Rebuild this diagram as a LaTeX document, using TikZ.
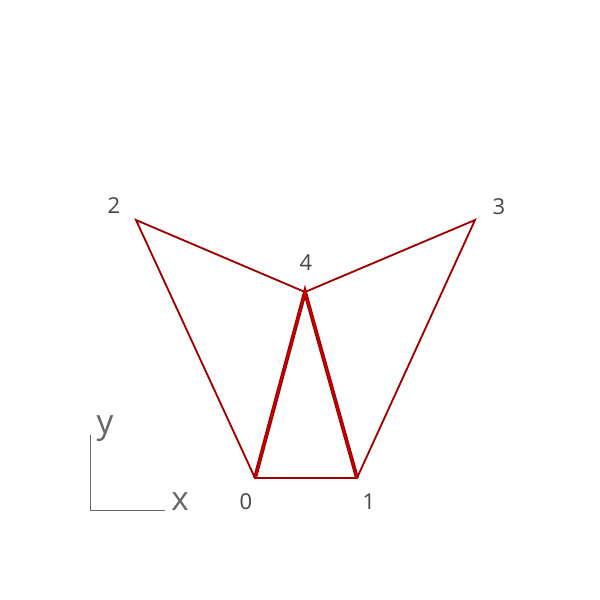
\documentclass[tikz,border=0pt]{standalone}
\usepackage{fontspec}
\setmainfont{Open Sans}
\usepackage{tikz}
\usetikzlibrary{positioning}
\definecolor{edgeCol}{HTML}{A00000}
\definecolor{hiCol}{HTML}{D00000}
\definecolor{txtCol}{HTML}{444444}
\definecolor{axCol}{HTML}{666666}
\begin{document}
\begin{tikzpicture}[x=0.02cm,y=-0.02cm,every node/.style={font=\fontsize{12.5}{14}\selectfont,text=txtCol,inner sep=0pt}]
  \tikzset{edge/.style={draw=edgeCol,line width=1.05pt},
    thickedge/.style={draw=edgeCol,line width=2.2pt},
    axisline/.style={draw=axCol,line width=0.5pt},
    axlbl/.style={font=\fontsize{19}{21}\selectfont,text=axCol}}
  \useasboundingbox (0,0) rectangle (600,600);
  % vertices
  \coordinate (v0) at (255,478);
  \coordinate (v1) at (357,478);
  \coordinate (v2) at (136,220);
  \coordinate (v3) at (475,220);
  \coordinate (v4) at (305,292);
  \node (l0) at (246,502) {0};
  \node (l1) at (369,502) {1};
  \node (l2) at (114,206) {2};
  \node (l3) at (499,207) {3};
  \node (l4) at (306,263) {4};
  % edges
  \draw[edge] (v2) -- (v0) -- (v1) -- (v3) -- (v4) -- cycle;
  \draw[thickedge] (v0) -- (v4) -- (v1);
  \draw[draw=hiCol,line width=0.8pt] (v0) -- (v4) -- (v1);
  % axes
  \coordinate (o) at (90,510);
  \coordinate (ax) at (165,510);
  \coordinate (ay) at (90,435);
  \draw[axisline] (ay) -- (o) -- (ax);
  \node[axlbl] (xl) at (180,502) {x};
  \node[axlbl] (yl) at (105,429) {y};
\end{tikzpicture}
\end{document}
